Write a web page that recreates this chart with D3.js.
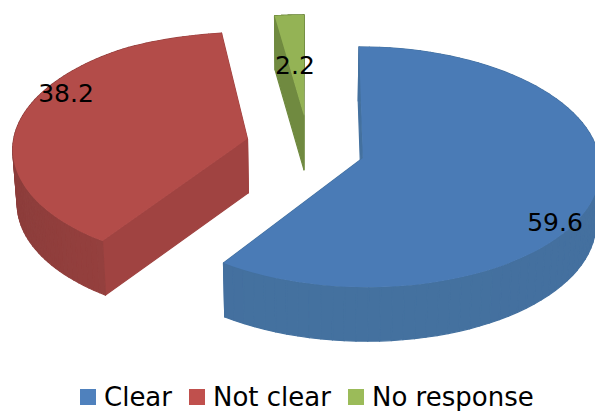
<!DOCTYPE html>
<html>
<head>
<meta charset="utf-8">
<script src="https://cdn.jsdelivr.net/npm/d3@7/dist/d3.min.js"></script>
<style>
html,body{margin:0;padding:0;background:#fff}
svg{display:block}
text{font-family:"DejaVu Sans",sans-serif;fill:#000}
</style>
</head>
<body>
<svg id="chart" width="595" height="411"></svg>
<script>
const categories = ["Clear", "Not clear", "No response"];
const values = [59.6, 38.2, 2.2];
const labels = ["59.6", "38.2", "2.2"];

const topColors = ["#4a7bb6", "#b34c49", "#94b355"];
const wallColors = ["#44719f", "#a04341", "#708a40"];
const wallDark = ["#44709f", "#8c3d3b", "#6a8340"];
const legendColors = ["#4f81bd", "#c0504d", "#9bbb59"];

// Exploded distance of each slice from the pie centre, in pie radii.
const explode = [0.245, 0.264, 0.225];
const labelPos = [[555, 222], [66, 93], [295, 65]];

// Perspective view of the tilted pie plane.
const view = {x0: 307.5, y0: 147.5, rx: 235, ry: 118, k: 0.074, depthStretch: 1.22, wall: 54, taper: 0.985, farV: -0.9, farSquash: 0.88};

function project(u, v) {
  // The far edge of the plate recedes a little faster than the rest of it.
  const w = v < view.farV ? view.farV + (v - view.farV) * view.farSquash : v;
  const s = 1 / (1 - view.k * v);
  return [view.x0 + view.rx * u * s, view.y0 + view.ry * w * s];
}
function drop(p) {
  return [view.x0 + (p[0] - view.x0) * view.taper, p[1] + view.wall];
}

const svg = d3.select("#chart");
const line = d3.line();
const pie = d3.pie().sort(null).value(d => d)(values);

const slices = pie.map((arc, i) => {
  const mid = (arc.startAngle + arc.endAngle) / 2;
  const cu = explode[i] * Math.sin(mid);
  const cv = -explode[i] * view.depthStretch * Math.cos(mid);
  const at = a => [cu + Math.sin(a), cv - Math.cos(a)];
  const angles = d3.range(0, 81).map(j => arc.startAngle + (arc.endAngle - arc.startAngle) * j / 80);
  return {i, cu, cv, at, angles};
});

slices.forEach(sl => {
  const apex = project(sl.cu, sl.cv);
  const rim = sl.angles.map(a => project(...sl.at(a)));
  const first = rim[0], last = rim[rim.length - 1];
  const midV = (a, b) => (a + b) / 2;

  // Side faces, painted from the far side of the plate to the near side.
  const faces = [];
  faces.push({depth: midV(sl.cv, sl.at(sl.angles[0])[1]), pts: [apex, first, drop(first), drop(apex)], fill: wallColors[sl.i]});
  faces.push({depth: midV(sl.cv, sl.at(sl.angles[80])[1]), pts: [apex, last, drop(last), drop(apex)], fill: wallColors[sl.i]});
  for (let j = 0; j < rim.length - 1; j++) {
    const a = (sl.angles[j] + sl.angles[j + 1]) / 2;
    const facing = Math.abs(Math.sin(a));
    const shade = d3.interpolateRgb(wallColors[sl.i], wallDark[sl.i])(facing);
    faces.push({depth: sl.at(a)[1], pts: [rim[j], rim[j + 1], drop(rim[j + 1]), drop(rim[j])], fill: shade});
  }
  faces.sort((a, b) => a.depth - b.depth);

  const g = svg.append("g");
  g.selectAll("path.side").data(faces).join("path")
    .attr("class", "side")
    .attr("d", d => line(d.pts) + "Z")
    .attr("fill", d => d.fill)
    .attr("stroke", d => d.fill)
    .attr("stroke-width", 1.2)
    .attr("stroke-linejoin", "round");

  g.append("path")
    .attr("d", line([apex, ...rim]) + "Z")
    .attr("fill", topColors[sl.i]);
});

// Value labels
svg.selectAll("text.value").data(labels).join("text")
  .attr("class", "value")
  .attr("x", (d, i) => labelPos[i][0])
  .attr("y", (d, i) => labelPos[i][1])
  .attr("text-anchor", "middle")
  .attr("dominant-baseline", "central")
  .attr("font-size", 25)
  .text(d => d);

// Legend
const legendX = [80, 189, 348];
const legend = svg.selectAll("g.legend").data(categories).join("g")
  .attr("class", "legend")
  .attr("transform", (d, i) => `translate(${legendX[i]},389)`);
legend.append("rect")
  .attr("width", 16).attr("height", 16)
  .attr("fill", (d, i) => legendColors[i]);
legend.append("text")
  .attr("x", 24).attr("y", 17)
  .attr("font-size", 26)
  .text(d => d);
</script>
</body>
</html>
